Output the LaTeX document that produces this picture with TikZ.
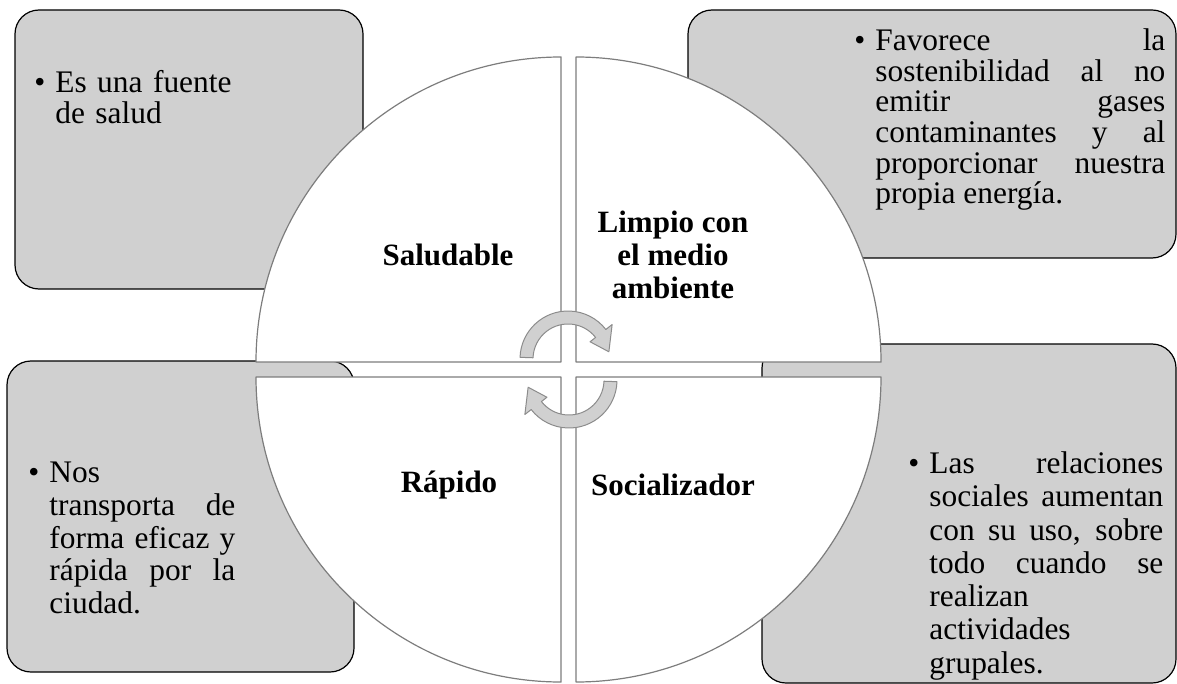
\documentclass[tikz,border=0pt]{standalone}
\usepackage{fontspec}
\setmainfont{Liberation Serif}
\usetikzlibrary{calc}
\definecolor{boxgray}{RGB}{208,208,208}
\definecolor{quadgray}{RGB}{125,125,125}
\definecolor{arrowfill}{RGB}{208,208,208}
\definecolor{arrowline}{RGB}{140,140,140}
\newcommand{\itembullet}{\leavevmode\llap{\textbullet\hspace{5pt}}\rule{0pt}{12pt}}
\tolerance=9999
\hbadness=10000

\begin{document}
\begin{tikzpicture}[x=0.5pt, y=-0.5pt, line join=round,
    infobox/.style={draw=black, line width=0.6pt, fill=boxgray, rounded corners=12pt},
    quadrant/.style={draw=quadgray, line width=0.6pt, fill=white},
    turnarrow/.style={draw=arrowline, line width=0.5pt, fill=arrowfill},
    quadtext/.style={inner sep=0pt, align=center, font=\fontsize{15.5}{16.4}\selectfont\bfseries},
    bullettext/.style={anchor=north west, inner sep=0pt, align=justify}]
    \useasboundingbox (0,0) rectangle (1177,684);

    % grey boxes behind the circle
    \draw[infobox] (15,10) rectangle (363,289);
    \draw[infobox] (688,10) rectangle (1176,258);
    \draw[infobox] (7,361) rectangle (354,672);
    \draw[infobox] (762,344) rectangle (1176,683);

    % four quarters of the circle
    \draw[quadrant] (561,362) -- (256,362) arc[start angle=180, end angle=270, radius=305] -- cycle;
    \draw[quadrant] (576,362) -- (576,57) arc[start angle=270, end angle=360, radius=305] -- cycle;
    \draw[quadrant] (576,377) -- (881,377) arc[start angle=0, end angle=90, radius=305] -- cycle;
    \draw[quadrant] (561,377) -- (561,682) arc[start angle=90, end angle=180, radius=305] -- cycle;

    % turning arrows in the middle
    \coordinate (turntop) at (568,359);
    \coordinate (turnbot) at (569,380);
    \draw[turnarrow] ($(turntop)+(182:48)$) arc[start angle=182, end angle=322, radius=48]
        -- ($(turntop)+(322:56)$) -- ($(turntop)+(350:41.5)$) -- ($(turntop)+(322:28)$)
        -- ($(turntop)+(322:35)$) arc[start angle=322, end angle=182, radius=35] -- cycle;
    \draw[turnarrow] ($(turnbot)+(2:48)$) arc[start angle=2, end angle=142, radius=48]
        -- ($(turnbot)+(142:56)$) -- ($(turnbot)+(170:41.5)$) -- ($(turnbot)+(142:28)$)
        -- ($(turnbot)+(142:35)$) arc[start angle=142, end angle=2, radius=35] -- cycle;

    \node[quadtext] (saludable) at (448,255) {Saludable};
    \node[quadtext] (limpio) at (673,255) {Limpio con\\el medio\\ambiente};
    \node[quadtext] (rapido) at (449,485) {Rápido};
    \node[quadtext] (socializador) at (673,485) {Socializador};

    \node[bullettext, align=left, text width=92pt, font=\fontsize{15.7}{15.35}\selectfont] (txtsalud) at (55,68)
        {\itembullet Es una fuente\\de salud};
    \node[bullettext, text width=145pt, font=\fontsize{15.7}{15.35}\selectfont] (txtlimpio) at (875,26)
        {\itembullet Favorece la\linebreak sostenibilidad al no\linebreak emitir gases\linebreak contaminantes y al\linebreak proporcionar nuestra\linebreak propia energía.};
    \node[bullettext, text width=93pt, font=\fontsize{15.7}{16.4}\selectfont] (txtrapido) at (49,458)
        {\itembullet Nos\linebreak transporta de\linebreak forma eficaz y\linebreak rápida por la\linebreak ciudad.};
    \node[bullettext, text width=117pt, font=\fontsize{15.7}{16.65}\selectfont] (txtsocial) at (929,449)
        {\itembullet Las relaciones\linebreak sociales aumentan\linebreak con su uso, sobre\linebreak todo cuando se\linebreak realizan\linebreak actividades\linebreak grupales.};
\end{tikzpicture}
\end{document}
